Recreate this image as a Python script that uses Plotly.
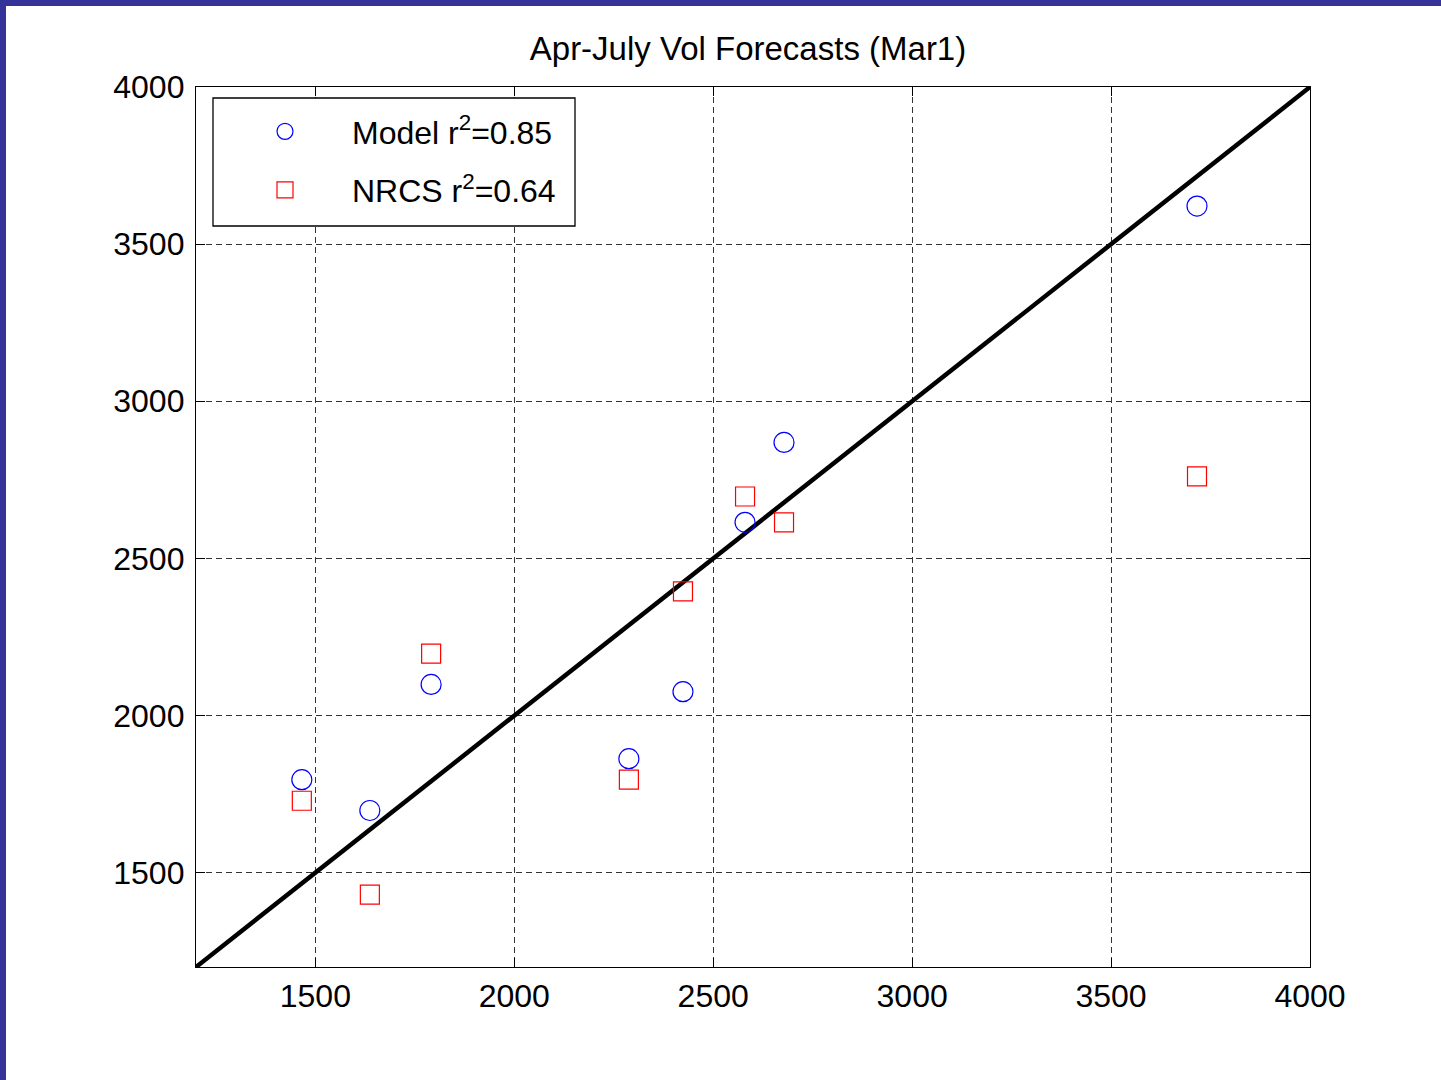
import plotly.graph_objects as go

# ---- data ----
observed = [1466, 1637, 1791, 2288, 2424, 2580, 2678, 3716]
model_fc = [1796, 1698, 2099, 1863, 2076, 2615, 2869, 3621]
nrcs_fc = [1729, 1430, 2197, 1796, 2395, 2697, 2615, 2761]
one_to_one = [1200, 4000]
tick_vals = [1500, 2000, 2500, 3000, 3500, 4000]
title_text = "Apr-July Vol Forecasts (Mar1)"
model_name = "Model r<sup>2</sup>=0.85"
nrcs_name = "NRCS r<sup>2</sup>=0.64"

W, H = 1441, 1080
L, R, T, B = 196, 1310, 87, 967
PW, PH = R - L, B - T


def px_x(p):
    return (p - L) / PW


def px_y(p):
    return (B - p) / PH


FONT = "Liberation Sans, Arial, sans-serif"

fig = go.Figure()
fig.add_trace(go.Scatter(x=one_to_one, y=one_to_one, mode="lines",
                         line=dict(color="black", width=4.5), showlegend=False,
                         hoverinfo="skip"))
fig.add_trace(go.Scatter(x=observed, y=model_fc, mode="markers", name=model_name,
                         legendgroup="m",
                         marker=dict(symbol="circle-open", size=20,
                                     color="#0000ff", line=dict(width=1.2, color="#0000ff"))))
fig.add_trace(go.Scatter(x=observed, y=nrcs_fc, mode="markers", name=nrcs_name,
                         legendgroup="n",
                         marker=dict(symbol="square-open", size=19,
                                     color="#ff0000", line=dict(width=1.2, color="#ff0000"))))

axis_common = dict(
    range=[1200, 4000], tickvals=tick_vals, ticks="inside", ticklen=9,
    tickcolor="black", tickwidth=1, showline=True, linecolor="black",
    linewidth=1.3, mirror="ticks", showgrid=True, gridcolor="#333333",
    gridwidth=1, griddash="6px,4px", zeroline=False,
    tickfont=dict(family=FONT, size=32, color="black"),
)

fig.update_layout(
    width=W, height=H, autosize=False,
    margin=dict(l=L, r=W - R, t=T, b=H - B, pad=0),
    paper_bgcolor="white", plot_bgcolor="white",
    title=dict(text=title_text, x=px_x(748), xref="paper", xanchor="center",
               y=1 - 48 / H, yref="container", yanchor="middle",
               font=dict(family=FONT, size=33, color="black")),
    xaxis=dict(**axis_common, ticklabelstandoff=0),
    yaxis=dict(**axis_common, ticklabelstandoff=4),
    legend=dict(x=px_x(218), y=px_y(104), xanchor="left", yanchor="top",
                borderwidth=0, bgcolor="rgba(0,0,0,0)",
                font=dict(family=FONT, size=32, color="black"),
                itemwidth=124, tracegroupgap=14),
    shapes=[
        # legend box
        dict(type="rect", xref="paper", yref="paper",
             x0=px_x(213), x1=px_x(575), y0=px_y(226), y1=px_y(98),
             fillcolor="white", line=dict(color="black", width=1.3), layer="above"),
        # slide border
        dict(type="rect", xref="paper", yref="paper",
             x0=px_x(0), x1=px_x(6), y0=px_y(H + 5), y1=px_y(-5),
             fillcolor="#333399", line=dict(width=0), layer="above"),
        dict(type="rect", xref="paper", yref="paper",
             x0=px_x(-5), x1=px_x(W + 5), y0=px_y(6), y1=px_y(-5),
             fillcolor="#333399", line=dict(width=0), layer="above"),
    ],
    showlegend=True,
)

fig.write_html("out.html", config={"displayModeBar": False},
               post_script="document.body.style.margin='0';document.body.style.overflow='hidden';")
